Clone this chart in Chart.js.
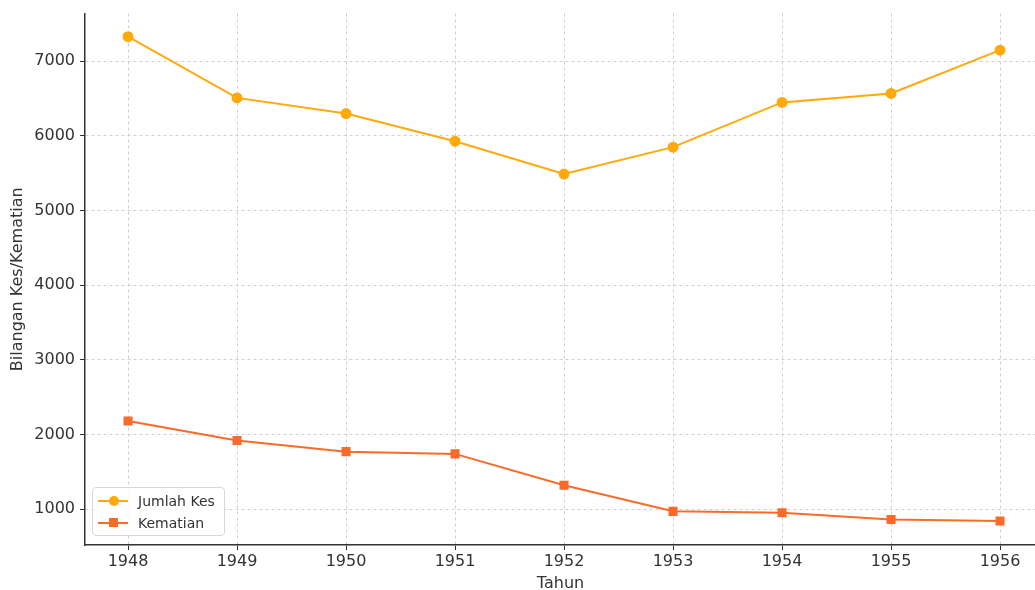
<!DOCTYPE html>
<html>
<head>
<meta charset="utf-8">
<script src="https://cdn.jsdelivr.net/npm/chart.js@4.4.1/dist/chart.umd.min.js"></script>
<style>
  html, body { margin: 0; padding: 0; background: #fff; overflow: hidden; }
  #wrap { position: relative; width: 1035px; height: 590px; overflow: hidden; }
  #chart { display: block; }
  #legend {
    position: absolute; left: 92px; top: 487px; width: 133px; height: 49px;
    border: 1px solid #d8d8d8; border-radius: 4px; background: rgba(255,255,255,0.85);
    font-family: 'DejaVu Sans', sans-serif; font-size: 14px; color: #333; box-sizing: border-box;
  }
  .row { position: absolute; left: 0; height: 20px; line-height: 20px; }
  .row .line { position: absolute; left: 5px; top: 9px; width: 30px; height: 2px; }
  .row .mk { position: absolute; left: 16px; }
  .row .lbl { position: absolute; left: 45px; white-space: nowrap; }
</style>
</head>
<body>
<div id="wrap">
  <canvas id="chart" width="1043" height="590"></canvas>
  <div id="legend">
    <div class="row" style="top:3px">
      <span class="line" style="background:#FFAA0A"></span>
      <span class="mk" style="top:5px;width:10px;height:10px;border-radius:50%;background:#FFAA0A"></span>
      <span class="lbl">Jumlah Kes</span>
    </div>
    <div class="row" style="top:25px">
      <span class="line" style="background:#F96B2B"></span>
      <span class="mk" style="top:5px;left:16px;width:9px;height:9px;background:#F96B2B"></span>
      <span class="lbl">Kematian</span>
    </div>
  </div>
</div>
<script>
const years = [1948, 1949, 1950, 1951, 1952, 1953, 1954, 1955, 1956];
const jumlahKes = [7330, 6510, 6300, 5930, 5490, 5850, 6450, 6570, 7150];
const kematian = [2180, 1920, 1770, 1740, 1320, 970, 950, 860, 840];
const yTicks = [1000, 2000, 3000, 4000, 5000, 6000, 7000];

const tickFont = { family: "'DejaVu Sans', sans-serif", size: 16 };
const gridStyle = {
  color: '#d0d0d0', lineWidth: 1,
  tickColor: '#333', tickBorderDash: [], tickLength: 5, tickWidth: 1,
};
const borderStyle = { display: true, color: '#333', width: 1.5, dash: [3, 3] };

new Chart(document.getElementById('chart').getContext('2d'), {
  type: 'line',
  data: {
    datasets: [
      {
        label: 'Jumlah Kes',
        data: years.map((y, i) => ({ x: y, y: jumlahKes[i] })),
        borderColor: '#FFAA0A', backgroundColor: '#FFAA0A',
        borderWidth: 2, pointStyle: 'circle', pointRadius: 4.5, tension: 0,
      },
      {
        label: 'Kematian',
        data: years.map((y, i) => ({ x: y, y: kematian[i] })),
        borderColor: '#F96B2B', backgroundColor: '#F96B2B',
        borderWidth: 2, pointStyle: 'rect', pointRadius: 5, tension: 0,
      },
    ],
  },
  options: {
    responsive: false, animation: false,
    layout: { padding: { top: 13.5, left: 0, right: 0, bottom: -3 } },
    plugins: { legend: { display: false }, tooltip: { enabled: false } },
    scales: {
      x: {
        type: 'linear', min: 1947.605, max: 1956.33,
        afterBuildTicks: (s) => { s.ticks = years.map((v) => ({ value: v })); },
        afterFit: (s) => { s.height = 48; },
        grid: gridStyle,
        border: borderStyle,
        ticks: { font: tickFont, color: '#333', padding: 2, maxRotation: 0, callback: (v) => String(v) },
        title: { display: true, text: 'Tahun', font: tickFont, color: '#333', padding: { top: 5, bottom: 0 } },
      },
      y: {
        type: 'linear', min: 519, max: 7641,
        afterBuildTicks: (s) => { s.ticks = yTicks.map((v) => ({ value: v })); },
        afterFit: (s) => { s.width = 85; s.paddingTop = 0; s.paddingBottom = 0; },
        grid: gridStyle,
        border: borderStyle,
        ticks: { font: tickFont, color: '#333', padding: 5, callback: (v) => String(v) },
        title: { display: true, text: 'Bilangan Kes/Kematian', font: tickFont, color: '#333', padding: { top: 8, bottom: 0 } },
      },
    },
  },
});
</script>
</body>
</html>
